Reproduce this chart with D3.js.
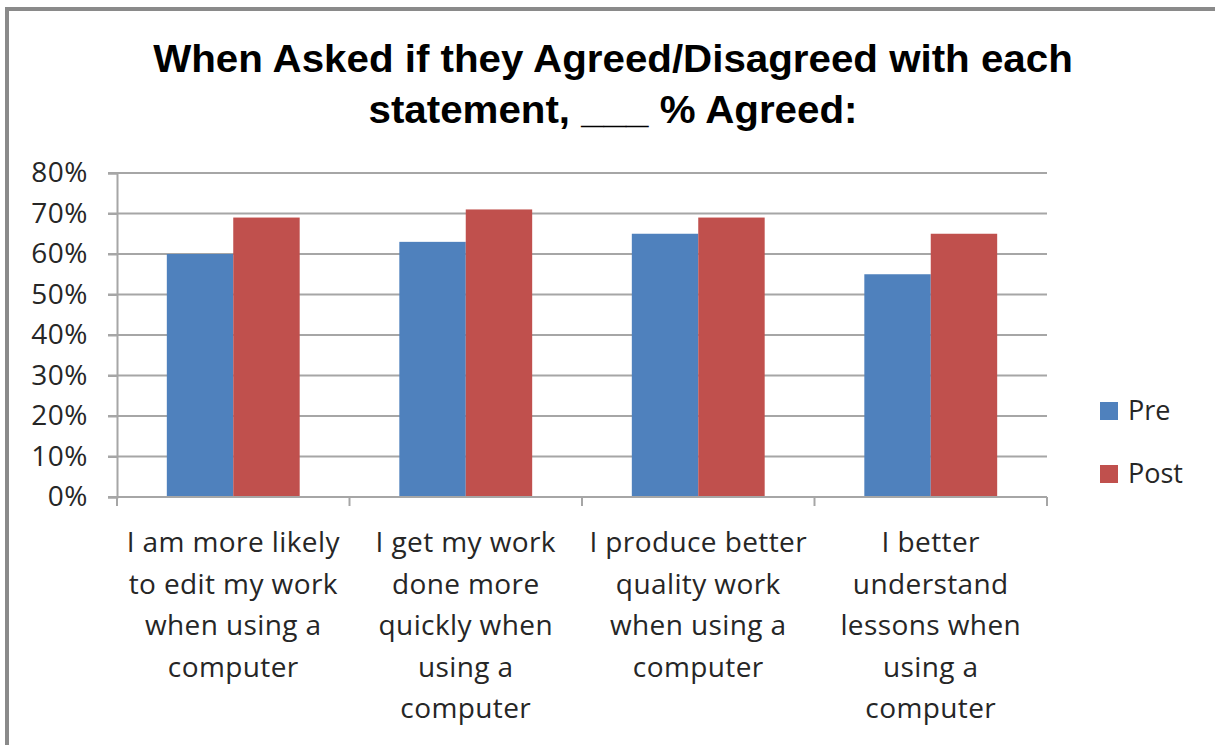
<!DOCTYPE html>
<html>
<head>
<meta charset="utf-8">
<script src="https://cdn.jsdelivr.net/npm/d3@7"></script>
<style>
  html, body { margin: 0; padding: 0; background: #fff; }
  svg { display: block; }
</style>
</head>
<body>
<svg id="chart" width="1215" height="745"></svg>
<script>
// Survey statements (category axis), wrapped as they appear under the axis
const categories = [
  ["I am more likely", "to edit my work", "when using a", "computer"],
  ["I get my work", "done more", "quickly when", "using a", "computer"],
  ["I produce better", "quality work", "when using a", "computer"],
  ["I better", "understand", "lessons when", "using a", "computer"]
];
const seriesNames = ["Pre", "Post"];
const preValues = [0.60, 0.63, 0.65, 0.55];
const postValues = [0.69, 0.71, 0.69, 0.65];
const yTicks = [0, 0.1, 0.2, 0.3, 0.4, 0.5, 0.6, 0.7, 0.8];
const titleLines = ["When Asked if they Agreed/Disagreed with each", "statement, ___ % Agreed:"];

const colors = { Pre: "#4F81BD", Post: "#C0504D" };
const bodyFont = "'Open Sans', Lato, sans-serif";
const bodySize = 28;

const svg = d3.select("#chart");

// Outer chart frame (only top and left edges fall inside the view)
svg.append("rect")
  .attr("x", 7).attr("y", 9)
  .attr("width", 1260).attr("height", 800)
  .attr("fill", "#fff")
  .attr("stroke", "#8a8a8a")
  .attr("stroke-width", 4);

const plot = { left: 117, right: 1047, top: 173, bottom: 497 };

const x0 = d3.scaleBand()
  .domain(d3.range(categories.length))
  .range([plot.left, plot.right])
  .paddingInner(0)
  .paddingOuter(0);

const groupPad = (x0.bandwidth() - 2 * (x0.bandwidth() / 3.5)) / 2;
const x1 = d3.scaleBand()
  .domain(seriesNames)
  .range([groupPad, x0.bandwidth() - groupPad]);

const y = d3.scaleLinear().domain([0, 0.8]).range([plot.bottom, plot.top]);

// Horizontal gridlines
svg.append("g")
  .selectAll("line")
  .data(yTicks.filter(t => t > 0))
  .join("line")
  .attr("x1", plot.left - 9).attr("x2", plot.right)
  .attr("y1", d => y(d)).attr("y2", d => y(d))
  .attr("stroke", "#a6a6a6")
  .attr("stroke-width", 2);

// Y axis
const yAxis = svg.append("g")
  .attr("transform", `translate(${plot.left},0)`)
  .call(d3.axisLeft(y).tickValues(yTicks).tickFormat(d3.format(".0%")).tickSize(9).tickPadding(20));
yAxis.select(".domain").attr("stroke", "#a6a6a6").attr("stroke-width", 2);
yAxis.selectAll(".tick line").attr("stroke", "#a6a6a6").attr("stroke-width", 2);
yAxis.selectAll(".tick text")
  .attr("font-family", bodyFont)
  .attr("font-size", bodySize)
  .attr("letter-spacing", 0.5)
  .attr("fill", "#262626");

// Bars
const data = categories.map((c, i) => ({ i, Pre: preValues[i], Post: postValues[i] }));
svg.append("g")
  .selectAll("g")
  .data(data)
  .join("g")
  .attr("transform", d => `translate(${x0(d.i)},0)`)
  .selectAll("rect")
  .data(d => seriesNames.map(s => ({ s, v: d[s] })))
  .join("rect")
  .attr("x", d => x1(d.s))
  .attr("width", x1.bandwidth())
  .attr("y", d => y(d.v))
  .attr("height", d => y(0) - y(d.v))
  .attr("fill", d => colors[d.s]);

// X axis line and category boundary ticks
const xg = svg.append("g");
xg.append("line")
  .attr("x1", plot.left - 9).attr("x2", plot.right)
  .attr("y1", plot.bottom).attr("y2", plot.bottom)
  .attr("stroke", "#a6a6a6").attr("stroke-width", 2);
xg.selectAll("line.tk")
  .data(d3.range(categories.length + 1))
  .join("line")
  .attr("class", "tk")
  .attr("x1", i => plot.left + i * x0.bandwidth())
  .attr("x2", i => plot.left + i * x0.bandwidth())
  .attr("y1", plot.bottom).attr("y2", plot.bottom + 9)
  .attr("stroke", "#a6a6a6").attr("stroke-width", 2);

// Category labels
const lab = svg.append("g")
  .selectAll("text")
  .data(categories)
  .join("text")
  .attr("x", (d, i) => x0(i) + x0.bandwidth() / 2)
  .attr("y", 552)
  .attr("text-anchor", "middle")
  .attr("font-family", bodyFont)
  .attr("font-size", bodySize)
  .attr("letter-spacing", 0.4)
  .attr("fill", "#262626");
lab.selectAll("tspan")
  .data(d => d)
  .join("tspan")
  .attr("x", function () { return this.parentNode.getAttribute("x"); })
  .attr("dy", (d, i) => i === 0 ? 0 : 41.5)
  .text(d => d);

// Legend
const legend = svg.append("g")
  .selectAll("g")
  .data(seriesNames)
  .join("g")
  .attr("transform", (d, i) => `translate(1100,${402 + i * 63})`);
legend.append("rect")
  .attr("width", 18).attr("height", 18)
  .attr("fill", d => colors[d]);
legend.append("text")
  .attr("x", 28).attr("y", 18)
  .attr("font-family", bodyFont)
  .attr("font-size", 27)
  .attr("fill", "#262626")
  .text(d => d);

// Title, horizontally condensed to the chart's title width
const title = svg.append("g");
const tl = title.selectAll("text")
  .data(titleLines)
  .join("text")
  .attr("x", 0)
  .attr("y", (d, i) => 72 + i * 51)
  .attr("text-anchor", "middle")
  .attr("font-family", "'Liberation Sans', Arial, sans-serif")
  .attr("font-weight", "bold")
  .attr("font-size", 38)
  .attr("fill", "#000")
  .text(d => d);
const w0 = tl.node().getComputedTextLength();
const sx = 920 / w0;
title.attr("transform", `translate(613,0) scale(${sx},1)`);
</script>
</body>
</html>
